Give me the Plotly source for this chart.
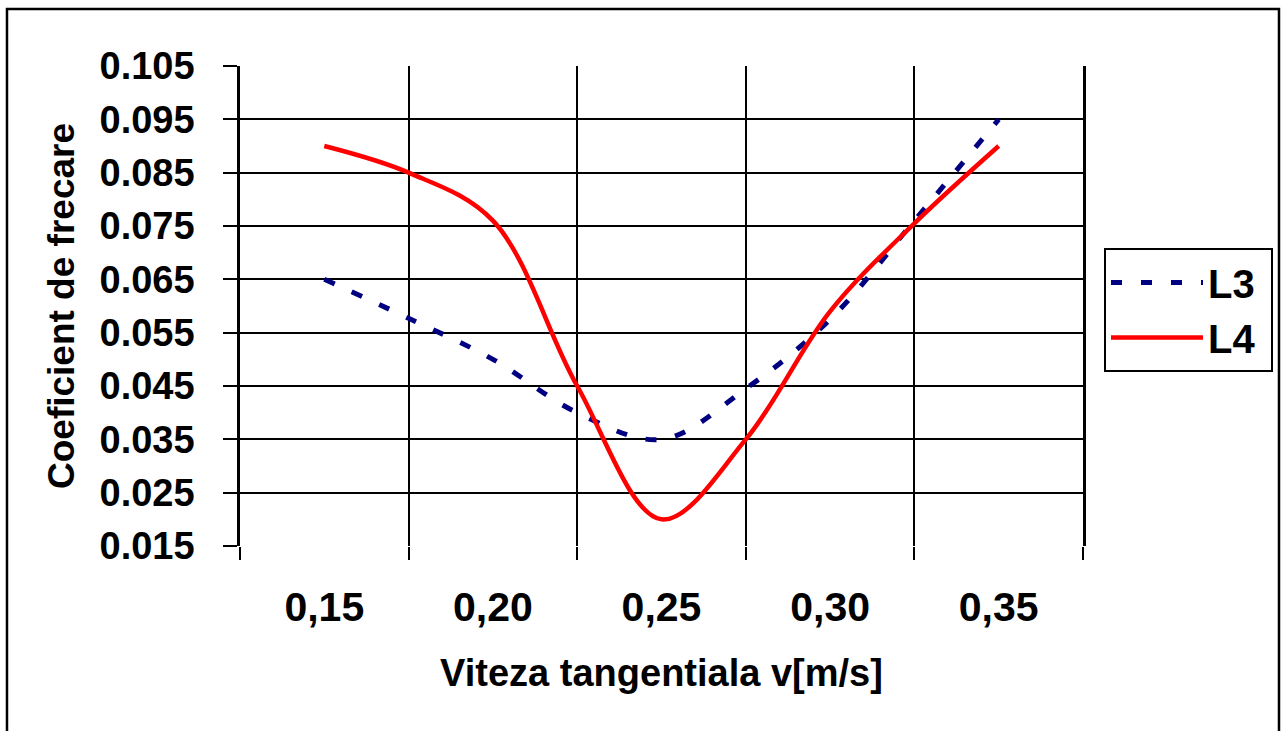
import plotly.graph_objects as go

speed = [0.15, 0.175, 0.2, 0.225, 0.25, 0.275, 0.3, 0.325, 0.35]
l3 = [0.065, 0.0577, 0.050, 0.040, 0.035, 0.0445, 0.0575, 0.076, 0.095]
l4 = [0.090, 0.085, 0.076, 0.045, 0.020, 0.035, 0.059, 0.0755, 0.090]
series_names = ["L3\u00a0", "L4\u00a0"]

x_ticks = [0.15, 0.20, 0.25, 0.30, 0.35]
x_labels = ["0,15", "0,20", "0,25", "0,30", "0,35"]
x_grid = [0.125, 0.175, 0.225, 0.275, 0.325, 0.375]

FONT = "Liberation Sans, Arial, sans-serif"

fig = go.Figure()
fig.add_trace(go.Scatter(
    x=speed, y=l3, name=series_names[0], mode="lines",
    line=dict(color="#000080", width=5, dash="11px,19px", shape="spline", smoothing=1),
))
fig.add_trace(go.Scatter(
    x=speed, y=l4, name=series_names[1], mode="lines",
    line=dict(color="#FF0000", width=4.5, shape="spline", smoothing=1),
))

fig.update_layout(
    width=1282, height=731,
    margin=dict(l=240, r=199, t=66, b=185, autoexpand=False),
    paper_bgcolor="white", plot_bgcolor="white",
    font=dict(family=FONT, color="black", size=38),
    showlegend=True,
    legend=dict(
        x=1.0249, xanchor="left", y=0.6208, yanchor="top",
        bordercolor="black", borderwidth=2, bgcolor="white",
        font=dict(family=FONT, size=40, color="black", weight="bold"),
        itemwidth=92, tracegroupgap=0,
    ),
    xaxis=dict(
        range=[0.125, 0.375],
        tickmode="array", tickvals=x_ticks, ticktext=x_labels,
        ticks="", showgrid=False,
        tickfont=dict(family=FONT, size=41, color="black", weight="bold"),
        ticklabelstandoff=33,
        showline=False, zeroline=False,
        minor=dict(tickmode="array", tickvals=x_grid, ticks="outside", ticklen=13,
                   tickwidth=2, tickcolor="black", showgrid=True,
                   gridcolor="black", gridwidth=2),
        title=dict(text="Viteza tangentiala v[m/s]",
                   font=dict(family=FONT, size=38, color="black", weight="bold"), standoff=30),
    ),
    yaxis=dict(
        range=[0.015, 0.105],
        tick0=0.015, dtick=0.01, tickformat=".3f",
        ticks="outside", ticklen=14, tickwidth=2, tickcolor="black",
        showgrid=True, gridcolor="black", gridwidth=2,
        showline=True, linecolor="black", linewidth=2.5, mirror=True,
        zeroline=False,
        tickfont=dict(family=FONT, size=38, color="black", weight="bold"),
        ticklabelstandoff=21,
        title=dict(text="Coeficient de frecare",
                   font=dict(family=FONT, size=37, color="black", weight="bold"), standoff=14),
    ),
)

# outer chart border
fig.add_shape(type="rect", xref="paper", yref="paper",
              x0=-0.2764, x1=1.2325, y0=-0.45, y1=1.11875,
              line=dict(color="black", width=2.5), fillcolor="rgba(0,0,0,0)", layer="below")

fig.write_html("out.html")
